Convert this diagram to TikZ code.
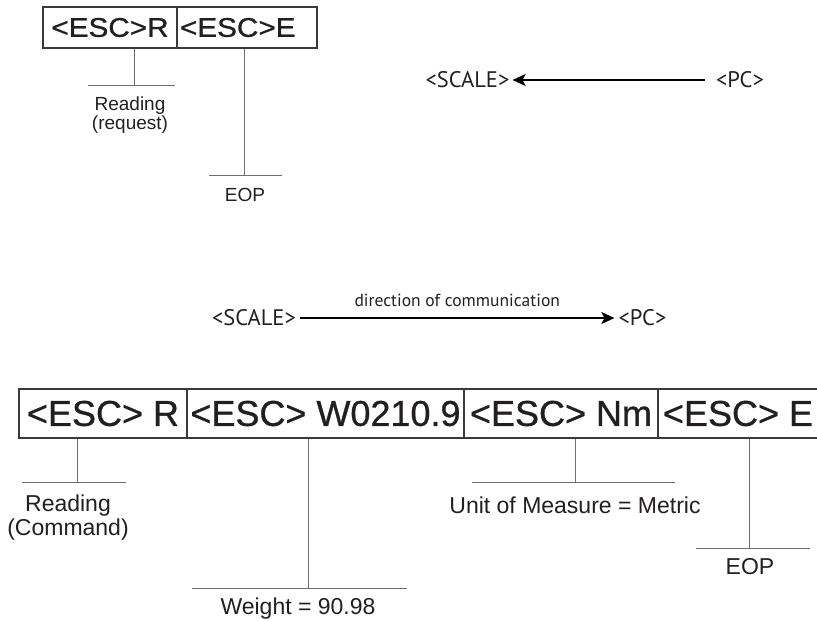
\documentclass[tikz,border=0pt]{standalone}
\usepackage{fontspec}
\setmainfont{Liberation Sans}
\newfontfamily\framefont[FakeBold=0.8]{Liberation Sans}
\newfontfamily\myriad{PT Sans}
\usetikzlibrary{arrows.meta,positioning}
\definecolor{inkc}{HTML}{231F20}
\definecolor{framec}{HTML}{3A3A3A}
\definecolor{stemc}{HTML}{6D6E71}
\tikzset{
  seg/.style={draw=framec, line width=1.2pt, inner sep=0pt, text=inkc},
  stem/.style={draw=stemc, line width=1pt},
  note/.style={inner sep=0pt, align=center, text=inkc},
  flow/.style={draw=black, line width=1.8pt, -{Stealth[length=13pt,width=12pt,inset=3pt]}},
  tag/.style={inner sep=0pt, text=inkc, font=\myriad\fontsize{22.5}{22.5}\selectfont}
}
\begin{document}
\begin{tikzpicture}[x=1pt,y=-1pt]
	\useasboundingbox (0,0) rectangle (817,621);

	% Request frame
	\begin{scope}[font=\framefont\fontsize{27}{27}\selectfont]
		\node[seg, minimum width=134, minimum height=41] (reqR) at (110,27.5) {\raisebox{-2pt}{\scalebox{1.1}[1]{<ESC>R}}};
		\node[seg, minimum width=140, minimum height=41, text width=134, align=left] (reqE) at (247,27.5) {\raisebox{-2pt}{\scalebox{1.1}[1]{<ESC>E}}};
	\end{scope}

	% Stems (simplified)
	\coordinate (reqRbar) at (134,85);
	\coordinate (reqEbar) at (244,175);
	\draw[stem] (reqR.south -| reqRbar) -- (reqRbar);
	\draw[stem] ([xshift=-46pt]reqRbar) -- ([xshift=41pt]reqRbar);
	\draw[stem] (reqE.south -| reqEbar) -- (reqEbar);
	\draw[stem] ([xshift=-35pt]reqEbar) -- ([xshift=38pt]reqEbar);
	\begin{scope}[font=\fontsize{19}{19}\selectfont]
		\node[note, anchor=north] (reqRnote) at (130,97) {Reading\\(request)};
		\node[note, anchor=north] (reqEnote) at (245,188) {EOP};
	\end{scope}

	% PC to scale
	\node[tag] (scaleA) at (467.5,80) {<SCALE>};
	\node[tag] (pcA) at (740,80) {<PC>};
	\draw[flow] ([xshift=-11pt]pcA.west) -- ([xshift=3pt]scaleA.east);

	% Scale to PC
	\node[tag] (scaleB) at (254,318) {<SCALE>};
	\node[tag] (pcB) at (642.5,318) {<PC>};
	\draw[flow] ([xshift=4pt]scaleB.east) -- ([xshift=-4pt]pcB.west)
		node[midway, above=10pt, tag, font=\myriad\fontsize{17.5}{17.5}\selectfont] (dircom) {direction of communication};

	% Response frame
	\begin{scope}[font=\framefont\fontsize{36}{36}\selectfont]
		\node[seg, minimum width=168, minimum height=49] (resR) at (103,413.5) {<ESC> R};
		\node[seg, minimum width=277, minimum height=49] (resW) at (325.5,413.5) {<ESC> W0210.9};
		\node[seg, minimum width=194, minimum height=49] (resN) at (561,413.5) {<ESC> Nm};
		\node[seg, minimum width=160, minimum height=49] (resE) at (738,413.5) {<ESC> E};
	\end{scope}

	% Stems (simplified)
	\coordinate (resRbar) at (77,482);
	\coordinate (resWbar) at (308,588);
	\coordinate (resNbar) at (575,482);
	\coordinate (resEbar) at (749,548);
	\draw[stem] (resR.south -| resRbar) -- (resRbar);
	\draw[stem] ([xshift=-55pt]resRbar) -- ([xshift=49pt]resRbar);
	\draw[stem] (resW.south -| resWbar) -- (resWbar);
	\draw[stem] ([xshift=-116pt]resWbar) -- ([xshift=99pt]resWbar);
	\draw[stem] (resN.south -| resNbar) -- (resNbar);
	\draw[stem] ([xshift=-103pt]resNbar) -- ([xshift=100pt]resNbar);
	\draw[stem] (resE.south -| resEbar) -- (resEbar);
	\draw[stem] ([xshift=-53pt]resEbar) -- ([xshift=61pt]resEbar);
	\begin{scope}[font=\fontsize{23}{24}\selectfont]
		\node[note, anchor=north] (resRnote) at (68,495) {Reading\\(Command)};
		\node[note, anchor=north] (resWnote) at (298,598) {Weight = 90.98};
		\node[note, anchor=north] (resNnote) at (575,497) {Unit of Measure = Metric};
		\node[note, anchor=north] (resEnote) at (750,558) {EOP};
	\end{scope}
\end{tikzpicture}
\end{document}
